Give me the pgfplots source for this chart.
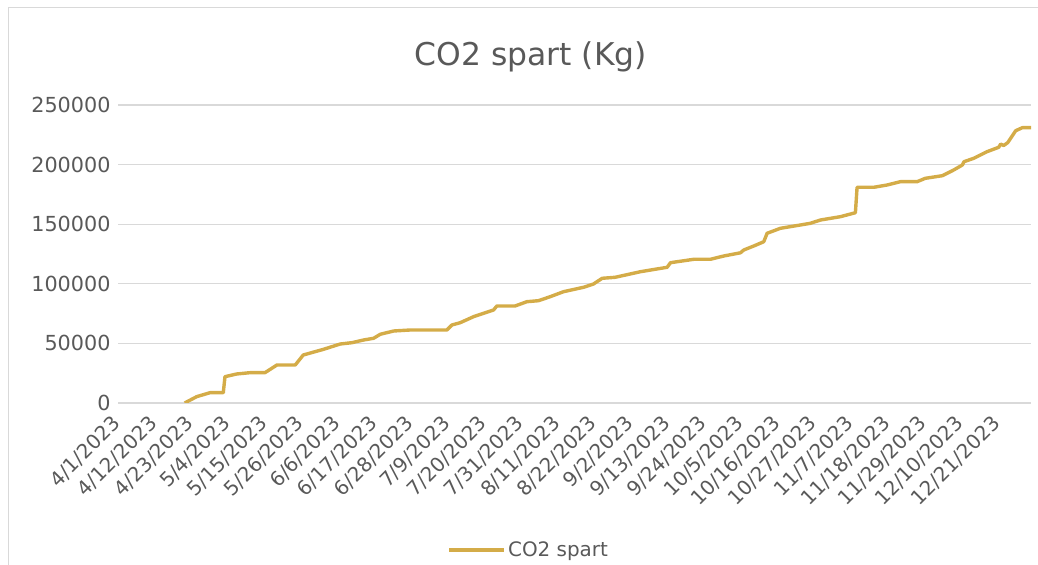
\documentclass[border=0pt]{standalone}
\usepackage{pgfplots}
\pgfplotsset{compat=1.18}
\usepackage{pgfplotstable}
\usepackage{fontspec}
\setmainfont{DejaVu Sans}
\definecolor{linegold}{RGB}{212,172,72}
\definecolor{txtgray}{RGB}{89,89,89}
\definecolor{gridgray}{RGB}{217,217,217}
\pgfplotstableread{
day val
20 0
23.6 5300
27.6 8640
31.6 8640
32.1 22060
35.6 24330
39.6 25420
44.1 25420
47.7 31880
53.2 31880
55.6 40270
61.7 45050
66.7 49500
70.2 50590
73.7 52850
76.7 54280
78.7 57630
82.7 60400
87.7 61240
98.7 61240
100.2 65430
102.7 67360
106.7 72400
112.7 78020
113.7 81370
119.2 81400
122.7 84980
126.2 85820
129.7 89180
133.7 93370
139.7 97060
142.7 99830
145.3 104610
149.2 105450
156.8 110150
164.8 113840
165.8 117700
172.8 120550
177.8 120550
181.8 123320
186.8 126000
187.8 128350
190.8 131700
193.8 135300
194.8 142360
198.8 146560
204.8 149330
207.8 150750
210.8 153520
216.8 156290
221.3 159640
221.8 180950
226.8 180950
230.8 182880
234.8 185650
239.8 185650
242.3 188500
247.4 190690
250.8 195470
253.4 199660
253.9 202430
256.8 205280
260.8 210820
264.3 214510
264.9 217200
265.8 216000
267.0 218400
269.4 228430
271.4 230950
274 230950
}\co
\begin{document}
\begin{tikzpicture}[x=1bp,y=1bp]
\useasboundingbox (0,0) rectangle (1038,565);
\draw[gridgray, line width=1bp] (8,0) -- (8,557) -- (1038,557);
\begin{axis}[
  at={(118bp,162bp)}, anchor=south west,
  scale only axis, width=913bp, height=298bp,
  xmin=0, xmax=274, ymin=0, ymax=250000,
  axis line style={draw=none},
  tick style={draw=none},
  ymajorgrids, grid style={gridgray, line width=1.2bp},
  ytick={0,50000,100000,150000,200000,250000},
  yticklabels={0,50000,100000,150000,200000,250000},
  scaled y ticks=false,
  yticklabel style={font=\fontsize{20.8}{24}\selectfont, text=txtgray, xshift=-4bp},
  xtick={0,11,...,264},
  xticklabels={4/1/2023,4/12/2023,4/23/2023,5/4/2023,5/15/2023,5/26/2023,6/6/2023,6/17/2023,6/28/2023,7/9/2023,7/20/2023,7/31/2023,8/11/2023,8/22/2023,9/2/2023,9/13/2023,9/24/2023,10/5/2023,10/16/2023,10/27/2023,11/7/2023,11/18/2023,11/29/2023,12/10/2023,12/21/2023},
  xticklabel style={font=\fontsize{20}{24}\selectfont, text=txtgray, rotate=45, anchor=east, xshift=-9.5bp, yshift=-11.4bp},
  title={CO2 spart (Kg)},
  title style={at={(axis description cs:0.452,1.141)}, anchor=center, font=\fontsize{31.5}{38}\selectfont, text=txtgray},
  legend style={at={(axis description cs:0.45,-0.493)}, anchor=center, draw=none, fill=none, font=\fontsize{20}{24}\selectfont, text=txtgray, inner sep=0pt},
  legend cell align=left,
  legend image code/.code={\draw[#1] (0bp,0bp) -- (55bp,0bp);},
]
\addplot[linegold, line width=3.4bp, line join=round] table[x=day, y=val] {\co};
\addlegendentry{CO2 spart}
\end{axis}
\end{tikzpicture}
\end{document}
